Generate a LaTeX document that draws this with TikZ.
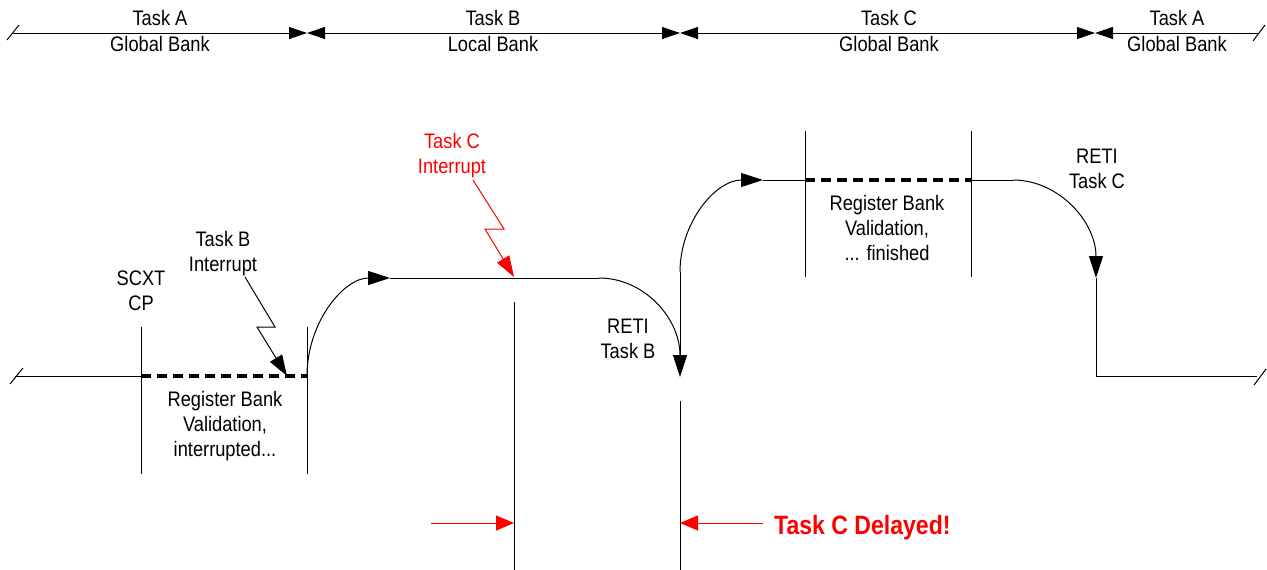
\documentclass[tikz,border=0pt]{standalone}
\usepackage{fontspec}
\setmainfont{Liberation Sans}[FakeStretch=0.87]
\usetikzlibrary{arrows.meta}
\begin{document}
\begin{tikzpicture}[x=1pt,y=-1pt,
  ln/.style={line width=1pt, black},
  dsh/.style={line width=3.2pt, black, dash pattern=on 10pt off 6pt},
  lbl/.style={font=\fontsize{21}{25}\selectfont, align=center, inner sep=0pt},
  toplbl/.style={font=\fontsize{21}{26}\selectfont, align=center, inner sep=0pt},
  ta/.tip={Triangle[length=18pt,width=12pt]},
  tb/.tip={Triangle[length=22pt,width=14pt]},
  tz/.tip={Triangle[length=21pt,width=14pt]},
  tr/.tip={Triangle[length=18pt,width=15pt]},
]
\useasboundingbox (0,0) rectangle (1267,570);

% ---------- top timeline ----------
\coordinate (T0) at (13,33);
\coordinate (T1) at (307,33);
\coordinate (T2) at (680,33);
\coordinate (T3) at (1095,33);
\coordinate (T4) at (1259,33);
\coordinate (sl1a) at (7,40);   \coordinate (sl1b) at (19,25);
\coordinate (sl2a) at (1253,41); \coordinate (sl2b) at (1265,25);
\draw[ln] (sl1a) -- (sl1b);
\draw[ln] (sl2a) -- (sl2b);
\draw[ln,-ta] (T0) -- (T1);
\draw[ln,ta-ta] (T1) -- (T2);
\draw[ln,ta-ta] (T2) -- (T3);
\draw[ln,ta-] (T3) -- (T4);

\node[toplbl] (lA1) at (160,31.4) {Task A\\Global Bank};
\node[toplbl] (lB)  at (493,31.4) {Task B\\Local Bank};
\node[toplbl] (lC)  at (889,31.4) {Task C\\Global Bank};
\node[toplbl] (lA2) at (1177,31.4) {Task A\\Global Bank};

% ---------- main timeline ----------
\coordinate (B0) at (15,376);
\coordinate (B1) at (141,376);
\coordinate (B2) at (307,376);
\coordinate (sl3a) at (10,384); \coordinate (sl3b) at (23,368);
\coordinate (sl4a) at (1254,385); \coordinate (sl4b) at (1266,369);
\draw[ln] (sl3a) -- (sl3b);
\draw[ln] (sl4a) -- (sl4b);
\draw[ln] (B0) -- (B1);
\draw[dsh] (B1) -- (B2);

% verticals
\coordinate (v1t) at (141,327); \coordinate (v1b) at (141,474);
\coordinate (v2t) at (307,327); \coordinate (v2b) at (307,474);
\coordinate (v3t) at (514,302); \coordinate (v3b) at (514,570);
\coordinate (v4t) at (680,401); \coordinate (v4b) at (680,570);
\coordinate (v5t) at (805,131); \coordinate (v5b) at (805,277);
\coordinate (v6t) at (971,131); \coordinate (v6b) at (971,277);
\draw[ln] (v1t) -- (v1b);
\draw[ln] (v2t) -- (v2b);
\draw[ln] (v3t) -- (v3b);
\draw[ln] (v4t) -- (v4b);
\draw[ln] (v5t) -- (v5b);
\draw[ln] (v6t) -- (v6b);

% Task B execution
\coordinate (H1a) at (390,278);
\coordinate (H1b) at (599,278);
\coordinate (E1) at (680,377);
\draw[ln,-tb] (B2) .. controls (307,322) and (344,278) .. (H1a);
\draw[ln] (H1a) -- (H1b);
\draw[ln,-tb] (H1b) .. controls (644,278) and (680,318) .. (E1);

% Task C execution
\coordinate (C0) at (680,272);
\draw[ln] (C0) -- (680,356);
\coordinate (H2a) at (763,180);
\coordinate (H2b) at (805,180);
\coordinate (H2c) at (971,180);
\coordinate (H2d) at (1013,180);
\coordinate (E2) at (1096,278);
\coordinate (E3) at (1096,376);
\coordinate (E4) at (1257,376);
\draw[ln,-tb] (C0) .. controls (680,222) and (716,180) .. (H2a);
\draw[ln] (H2a) -- (H2b);
\draw[dsh] (H2b) -- (H2c);
\draw[ln] (H2c) -- (H2d);
\draw[ln,-tb] (H2d) .. controls (1059,180) and (1096,222) .. (E2);
\draw[ln] (E2) -- (E3) -- (E4);

% interrupts
\draw[ln,-tz] (245,277) -- (275,327) -- (257,327) -- (287,376);
\draw[ln,red,-tz] (473,180) -- (504,229) -- (485,229) -- (514,277);

% delay arrows
\coordinate (D1) at (431,523); \coordinate (D2) at (514,523);
\coordinate (D3) at (763,523); \coordinate (D4) at (680,523);
\draw[ln,red,-tr] (D1) -- (D2);
\draw[ln,red,-tr] (D3) -- (D4);

% labels
\node[lbl] (scxt) at (141,291) {SCXT\\CP};
\node[lbl] (tbi) at (223,254) {Task B\\Interrupt};
\node[lbl,text=red] (tci) at (452,156) {Task C\\Interrupt};
\node[lbl] (retib) at (628,339) {RETI\\Task B};
\node[lbl] (retic) at (1097,169) {RETI\\Task C};
\node[lbl] (rbv1) at (225,426) {Register Bank\\Validation,\\interrupted...};
\node[lbl] (rbv2) at (887,228) {Register Bank\\Validation,\\... finished};
\node[font=\fontsize{26.5}{30}\selectfont\bfseries, text=red, inner sep=0pt, anchor=base west] (delay) at (774,534) {Task C Delayed!};
\end{tikzpicture}
\end{document}
